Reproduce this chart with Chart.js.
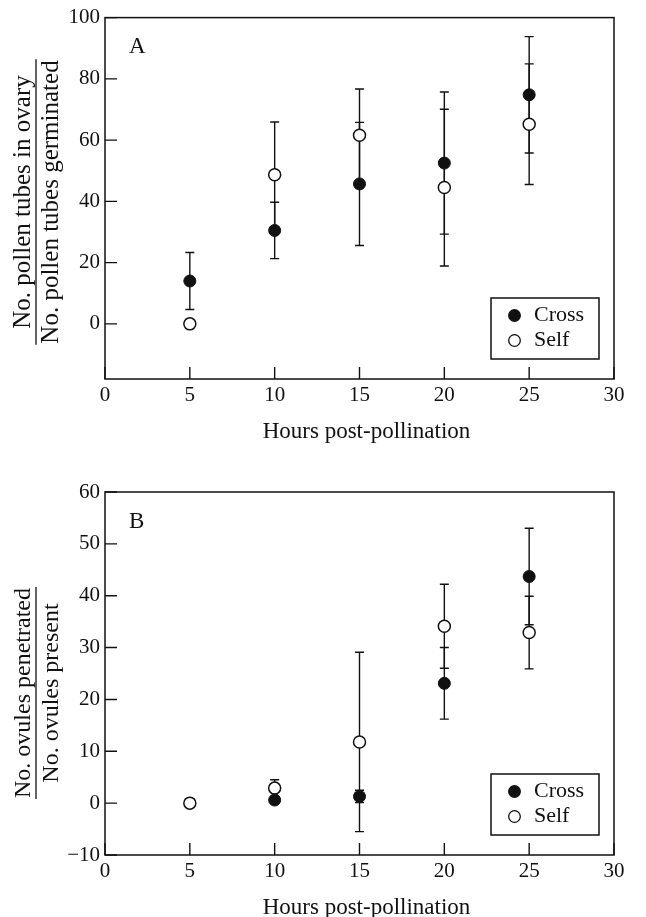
<!DOCTYPE html>
<html>
<head>
<meta charset="utf-8">
<script src="https://cdn.jsdelivr.net/npm/chart.js@4.4.0/dist/chart.umd.min.js"></script>
<style>
  html, body { margin: 0; padding: 0; background: #fff; overflow: hidden; }
  canvas { display: block; }
</style>
</head>
<body>
<canvas id="chartA" width="646" height="450"></canvas>
<canvas id="chartB" width="646" height="470"></canvas>
<script>
// shared x values
const hours = [5, 10, 15, 20, 25];

// panel A: pollen tubes in ovary / pollen tubes germinated
const tubesCross = [14.0, 30.5, 45.7, 52.5, 74.8];
const tubesCrossErr = [9.3, 9.2, 20.1, 23.2, 19.0];
const tubesSelf = [0, 48.7, 61.6, 44.5, 65.2];
const tubesSelfErr = [0, 17.2, 15.1, 25.6, 19.7];

// panel B: ovules penetrated / ovules present
const ovulesCross = [null, 0.6, 1.3, 23.1, 43.7];
const ovulesCrossErr = [0, 0, 1.2, 6.9, 9.3];
const ovulesSelf = [0, 2.9, 11.8, 34.1, 32.9];
const ovulesSelfErr = [0, 1.6, 17.3, 8.1, 7.0];

const seriesNames = ['Cross', 'Self'];
const xLabel = 'Hours post-pollination';

const SERIF = "'Liberation Serif', 'Times New Roman', serif";
const INK = '#111';

function points(vals, errs) {
  const out = [];
  hours.forEach((h, i) => {
    if (vals[i] !== null) out.push({ x: h, y: vals[i], err: errs[i] });
  });
  return out;
}

const paperPlugin = {
  id: 'paper',
  beforeDatasetsDraw(chart) {
    const { ctx, scales: { x, y } } = chart;
    ctx.save();
    ctx.strokeStyle = INK;
    ctx.lineWidth = 1.4;
    chart.data.datasets.forEach(ds => {
      ds.data.forEach(p => {
        if (!p.err) return;
        const px = x.getPixelForValue(p.x);
        const t = y.getPixelForValue(p.y + p.err);
        const b = y.getPixelForValue(p.y - p.err);
        ctx.beginPath();
        ctx.moveTo(px, t); ctx.lineTo(px, b);
        ctx.moveTo(px - 4.5, t); ctx.lineTo(px + 4.5, t);
        ctx.moveTo(px - 4.5, b); ctx.lineTo(px + 4.5, b);
        ctx.stroke();
      });
    });
    ctx.restore();
  },
  afterDraw(chart, args, opts) {
    const { ctx, chartArea: a, scales: { x, y } } = chart;
    ctx.save();
    ctx.strokeStyle = INK;
    ctx.fillStyle = INK;
    ctx.lineWidth = 1.5;
    ctx.strokeRect(a.left, a.top, a.right - a.left, a.bottom - a.top);

    // inward tick marks
    ctx.lineWidth = 1.4;
    ctx.beginPath();
    y.ticks.forEach(t => {
      const py = y.getPixelForValue(t.value);
      ctx.moveTo(a.left, py); ctx.lineTo(a.left + 12, py);
    });
    x.ticks.forEach(t => {
      const px = x.getPixelForValue(t.value);
      ctx.moveTo(px, a.bottom); ctx.lineTo(px, a.bottom - 12);
    });
    ctx.stroke();

    // panel letter
    ctx.font = '23px ' + SERIF;
    ctx.textAlign = 'left';
    ctx.textBaseline = 'alphabetic';
    ctx.fillText(opts.letter, a.left + 24, a.top + 35.5);

    // x axis title
    ctx.font = '23px ' + SERIF;
    ctx.textAlign = 'center';
    ctx.fillText(xLabel, (a.left + a.right) / 2 + 7, a.bottom + 59);

    // y axis title as a fraction
    ctx.save();
    ctx.translate(36, opts.titleY);
    ctx.rotate(-Math.PI / 2);
    ctx.font = opts.titleSize + 'px ' + SERIF;
    ctx.textAlign = 'center';
    ctx.fillText(opts.num, 0, -6);
    ctx.fillText(opts.den, 0, 22);
    const L = Math.max(ctx.measureText(opts.num).width, ctx.measureText(opts.den).width) + 2;
    ctx.lineWidth = 1.3;
    ctx.beginPath();
    ctx.moveTo(-L / 2, 0); ctx.lineTo(L / 2, 0);
    ctx.stroke();
    ctx.restore();

    // legend box
    const bw = 108, bh = 61;
    const bx = a.right - 15 - bw, by = a.bottom - 20 - bh;
    ctx.lineWidth = 1.5;
    ctx.strokeRect(bx, by, bw, bh);
    ctx.font = '22px ' + SERIF;
    ctx.textAlign = 'left';
    ctx.textBaseline = 'middle';
    chart.data.datasets.forEach((ds, i) => {
      const cy = by + 17.5 + i * 25;
      ctx.beginPath();
      ctx.arc(bx + 23.5, cy, 5.8, 0, Math.PI * 2);
      ctx.fillStyle = ds.backgroundColor;
      ctx.fill();
      ctx.lineWidth = 1.3;
      ctx.strokeStyle = INK;
      ctx.stroke();
      ctx.fillStyle = INK;
      ctx.fillText(ds.label, bx + 43, cy);
    });
    ctx.restore();
  }
};

const tickFont = { family: SERIF, size: 21 };
const signed = v => (v < 0 ? '\u2212' + Math.abs(v) : String(v));

function makeChart(id, cross, self, yOpts, frame, pad, xHeight) {
  return new Chart(document.getElementById(id), {
    type: 'scatter',
    data: {
      datasets: [
        {
          label: seriesNames[0],
          data: points(cross[0], cross[1]),
          backgroundColor: INK,
          borderColor: INK,
          borderWidth: 1,
          pointRadius: 6
        },
        {
          label: seriesNames[1],
          data: points(self[0], self[1]),
          backgroundColor: '#fff',
          borderColor: INK,
          borderWidth: 1.5,
          pointRadius: 6
        }
      ]
    },
    options: {
      responsive: false,
      animation: false,
      layout: { padding: pad },
      plugins: {
        legend: { display: false },
        tooltip: { enabled: false },
        paper: frame
      },
      scales: {
        x: {
          type: 'linear',
          min: 0, max: 30,
          grid: { display: false, drawTicks: false },
          border: { display: false },
          ticks: { stepSize: 5, padding: 4, color: INK, font: tickFont },
          afterFit: s => { s.height = xHeight; }
        },
        y: {
          min: yOpts.min, max: yOpts.max,
          grid: { display: false, drawTicks: false },
          border: { display: false },
          ticks: { stepSize: yOpts.step, includeBounds: false, padding: 5, color: INK, font: tickFont, callback: signed },
          afterFit: s => { s.width = 105; }
        }
      }
    },
    plugins: [paperPlugin]
  });
}

makeChart('chartA',
  [tubesCross, tubesCrossErr], [tubesSelf, tubesSelfErr],
  { min: -18, max: 100, step: 20 },
  { letter: 'A', num: 'No. pollen tubes in ovary', den: 'No. pollen tubes germinated', titleY: 202, titleSize: 25 },
  { left: 0, right: 32, top: 15, bottom: 0 }, 71);

makeChart('chartB',
  [ovulesCross, ovulesCrossErr], [ovulesSelf, ovulesSelfErr],
  { min: -10, max: 60, step: 10 },
  { letter: 'B', num: 'No. ovules penetrated', den: 'No. ovules present', titleY: 243, titleSize: 24 },
  { left: 0, right: 32, top: 42, bottom: 0 }, 65);
</script>
</body>
</html>
